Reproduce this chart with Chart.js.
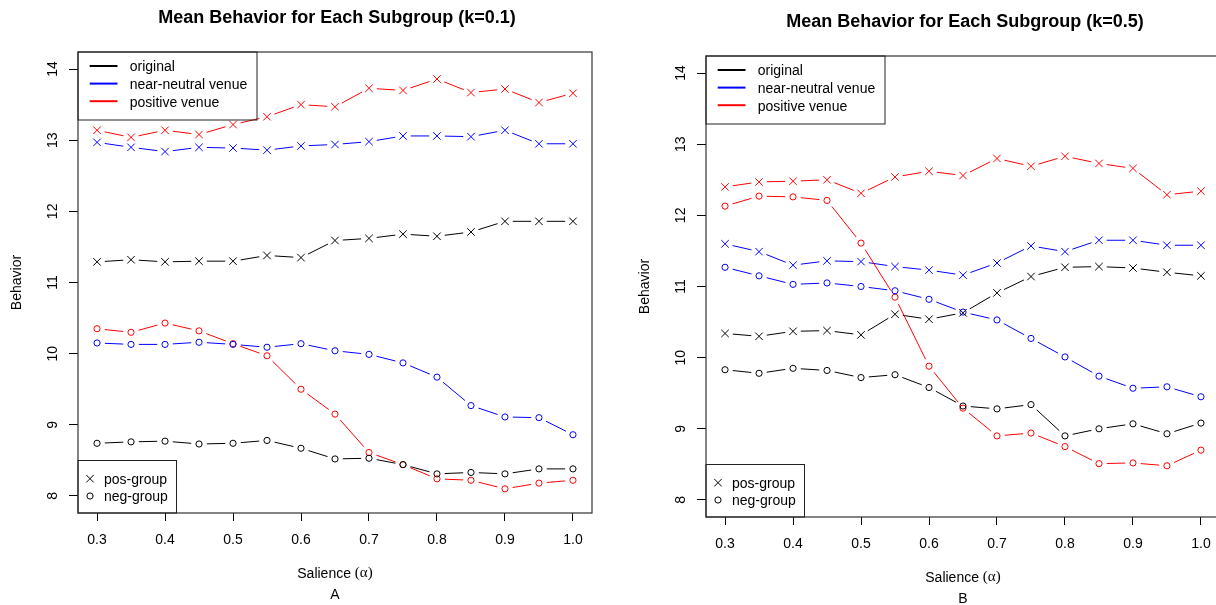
<!DOCTYPE html>
<html>
<head>
<meta charset="utf-8">
<script src="https://cdn.jsdelivr.net/npm/chart.js@4.4.1/dist/chart.umd.min.js"></script>
<style>
html, body { margin: 0; padding: 0; background: #fff; overflow: hidden; width: 1216px; height: 605px; }
.panel { position: absolute; width: 620px; height: 605px; }
</style>
</head>
<body>
<div class="panel" style="left:0;top:0"><canvas id="chartA" width="620" height="605"></canvas></div>
<div class="panel" style="left:628px;top:4px"><canvas id="chartB" width="620" height="605"></canvas></div>
<script>
// salience values (x) and axis ticks
const salience = [0.3, 0.35, 0.4, 0.45, 0.5, 0.55, 0.6, 0.65, 0.7, 0.75, 0.8, 0.85, 0.9, 0.95, 1.0];
const xTicks = [0.3, 0.4, 0.5, 0.6, 0.7, 0.8, 0.9, 1.0];
const yTicks = [8, 9, 10, 11, 12, 13, 14];

// k = 0.1
const k1OriginalPos = [11.29, 11.32, 11.29, 11.30, 11.30, 11.38, 11.35, 11.59, 11.62, 11.68, 11.65, 11.71, 11.86, 11.86, 11.86];
const k1OriginalNeg = [8.74, 8.76, 8.77, 8.73, 8.74, 8.78, 8.67, 8.52, 8.53, 8.44, 8.31, 8.33, 8.31, 8.38, 8.38];
const k1NeutralPos = [12.97, 12.90, 12.84, 12.90, 12.89, 12.86, 12.92, 12.94, 12.98, 13.06, 13.06, 13.05, 13.14, 12.95, 12.95];
const k1NeutralNeg = [10.15, 10.13, 10.13, 10.16, 10.13, 10.09, 10.14, 10.04, 9.99, 9.87, 9.67, 9.27, 9.11, 9.10, 8.86];
const k1PositivePos = [13.14, 13.04, 13.14, 13.08, 13.22, 13.33, 13.50, 13.47, 13.73, 13.70, 13.86, 13.67, 13.72, 13.53, 13.66];
const k1PositiveNeg = [10.35, 10.30, 10.43, 10.32, 10.14, 9.97, 9.50, 9.15, 8.61, 8.44, 8.24, 8.22, 8.10, 8.18, 8.22];

// k = 0.5
const k5OriginalPos = [10.34, 10.30, 10.37, 10.38, 10.32, 10.61, 10.54, 10.63, 10.91, 11.14, 11.27, 11.28, 11.26, 11.20, 11.15];
const k5OriginalNeg = [9.83, 9.78, 9.85, 9.82, 9.72, 9.76, 9.58, 9.32, 9.28, 9.34, 8.90, 9.00, 9.07, 8.93, 9.08];
const k5NeutralPos = [11.60, 11.49, 11.30, 11.36, 11.35, 11.28, 11.23, 11.16, 11.33, 11.57, 11.49, 11.65, 11.65, 11.58, 11.58];
const k5NeutralNeg = [11.27, 11.15, 11.03, 11.05, 11.00, 10.94, 10.82, 10.64, 10.53, 10.27, 10.01, 9.74, 9.57, 9.59, 9.45];
const k5PositivePos = [12.40, 12.47, 12.48, 12.50, 12.31, 12.54, 12.62, 12.56, 12.80, 12.69, 12.83, 12.73, 12.66, 12.29, 12.34];
const k5PositiveNeg = [12.13, 12.27, 12.26, 12.21, 11.61, 10.85, 9.88, 9.29, 8.90, 8.94, 8.75, 8.51, 8.52, 8.48, 8.70];

const venueNames = ['original', 'near-neutral venue', 'positive venue'];
const venueColors = ['#000000', '#0000ff', '#ff0000'];
const groupNames = ['pos-group', 'neg-group'];

const SANS = '"Liberation Sans", Arial, sans-serif';
const SERIF = '"Liberation Serif", "DejaVu Serif", serif';
const GAP = 7.8;
const CROSS_R = 5.3;
const CIRCLE_R = 3.1;

function series(values, color, cross) {
    return {
        data: values.map((v, i) => ({ x: salience[i], y: v })),
        borderColor: color,
        backgroundColor: 'rgba(0,0,0,0)',
        pointStyle: cross ? 'crossRot' : 'circle',
        pointRadius: cross ? CROSS_R : CIRCLE_R,
        pointBorderWidth: 1,
        pointHoverRadius: cross ? CROSS_R : CIRCLE_R,
        showLine: false
    };
}

// type="b" style lines: segments with a gap around every point
const gappedLines = {
    id: 'gappedLines',
    beforeDatasetsDraw(chart) {
        const ctx = chart.ctx;
        const a = chart.chartArea;
        ctx.save();
        ctx.beginPath();
        ctx.rect(a.left, a.top, a.right - a.left, a.bottom - a.top);
        ctx.clip();
        ctx.lineWidth = 1;
        chart.data.datasets.forEach((ds, i) => {
            const pts = chart.getDatasetMeta(i).data;
            ctx.strokeStyle = ds.borderColor;
            ctx.beginPath();
            for (let j = 0; j < pts.length - 1; j++) {
                const p = pts[j], q = pts[j + 1];
                const dx = q.x - p.x, dy = q.y - p.y;
                const len = Math.hypot(dx, dy);
                if (len <= 2 * GAP) continue;
                const ux = dx / len, uy = dy / len;
                ctx.moveTo(p.x + ux * GAP, p.y + uy * GAP);
                ctx.lineTo(q.x - ux * GAP, q.y - uy * GAP);
            }
            ctx.stroke();
        });
        ctx.restore();
    }
};

function drawCross(ctx, x, y, r) {
    const d = r * Math.SQRT1_2;
    ctx.beginPath();
    ctx.moveTo(x - d, y - d); ctx.lineTo(x + d, y + d);
    ctx.moveTo(x - d, y + d); ctx.lineTo(x + d, y - d);
    ctx.stroke();
}

function drawCircle(ctx, x, y, r) {
    ctx.beginPath();
    ctx.arc(x, y, r, 0, Math.PI * 2);
    ctx.stroke();
}

// box, tick labels, titles and the two legends, R style
const frame = {
    id: 'frame',
    afterDraw(chart, args, opts) {
        const ctx = chart.ctx;
        const a = chart.chartArea;
        const xs = chart.scales.x, ys = chart.scales.y;
        const cx = (a.left + a.right) / 2;
        ctx.save();

        ctx.strokeStyle = '#333';
        ctx.lineWidth = 1.2;
        ctx.strokeRect(a.left, a.top, a.right - a.left, a.bottom - a.top);

        ctx.fillStyle = '#000';
        ctx.font = '14px ' + SANS;
        ctx.textAlign = 'center';
        ctx.textBaseline = 'middle';
        xTicks.forEach(v => {
            ctx.fillText(v.toFixed(1), xs.getPixelForValue(v), a.bottom + 27);
        });
        yTicks.forEach(v => {
            ctx.save();
            ctx.translate(a.left - 25, ys.getPixelForValue(v));
            ctx.rotate(-Math.PI / 2);
            ctx.fillText(String(v), 0, 0);
            ctx.restore();
        });

        ctx.save();
        ctx.translate(a.left - 60.5, (a.top + a.bottom) / 2);
        ctx.rotate(-Math.PI / 2);
        ctx.fillText('Behavior', 0, 0);
        ctx.restore();

        // x axis title: "Salience" plus (alpha) in a serif face
        const part1 = 'Salience ';
        const part2 = '(\u03b1)';
        ctx.font = '14px ' + SANS;
        const w1 = ctx.measureText(part1).width;
        ctx.font = '15px ' + SERIF;
        const w2 = ctx.measureText(part2).width;
        const sx = cx - (w1 + w2) / 2;
        ctx.textAlign = 'left';
        ctx.font = '14px ' + SANS;
        ctx.fillText(part1, sx, a.bottom + 61);
        ctx.font = '15px ' + SERIF;
        ctx.fillText(part2, sx + w1, a.bottom + 60);
        ctx.textAlign = 'center';
        ctx.font = '14px ' + SANS;
        ctx.fillText(opts.letter, cx, a.bottom + 82);

        ctx.font = 'bold 18px ' + SANS;
        ctx.fillText(opts.title, cx + 2, a.top - 34);

        // venue legend, top left
        ctx.strokeStyle = '#222';
        ctx.lineWidth = 1;
        ctx.strokeRect(a.left, a.top, 179, 68);
        ctx.font = '14px ' + SANS;
        ctx.textAlign = 'left';
        venueNames.forEach((name, i) => {
            const y = a.top + 14 + i * 17.6;
            ctx.strokeStyle = venueColors[i];
            ctx.lineWidth = 2;
            ctx.beginPath();
            ctx.moveTo(a.left + 11.7, y);
            ctx.lineTo(a.left + 39.5, y);
            ctx.stroke();
            ctx.fillText(name, a.left + 51.7, y + 1.5);
        });

        // group legend, bottom left
        ctx.strokeStyle = '#222';
        ctx.lineWidth = 1;
        ctx.strokeRect(a.left, a.bottom - 52.5, 98.5, 52.5);
        groupNames.forEach((name, i) => {
            const y = a.bottom - 34.3 + i * 17.3;
            ctx.strokeStyle = '#000';
            ctx.lineWidth = 1;
            if (i === 0) drawCross(ctx, a.left + 12, y, CROSS_R);
            else drawCircle(ctx, a.left + 12, y, CIRCLE_R);
            ctx.fillText(name, a.left + 26, y + 1.5);
        });

        ctx.restore();
    }
};

function makeChart(id, title, letter, values) {
    const ctx = document.getElementById(id).getContext('2d');
    return new Chart(ctx, {
        type: 'scatter',
        data: {
            datasets: [
                series(values[0], venueColors[0], true),
                series(values[1], venueColors[0], false),
                series(values[2], venueColors[1], true),
                series(values[3], venueColors[1], false),
                series(values[4], venueColors[2], true),
                series(values[5], venueColors[2], false)
            ]
        },
        options: {
            responsive: false,
            animation: false,
            layout: { padding: { left: 0, right: 28, top: 52, bottom: 0 } },
            plugins: {
                legend: { display: false },
                tooltip: { enabled: false },
                frame: { title: title, letter: letter }
            },
            scales: {
                x: {
                    type: 'linear',
                    min: 0.272,
                    max: 1.028,
                    afterBuildTicks: s => { s.ticks = xTicks.map(v => ({ value: v })); },
                    afterFit: s => { s.height = 92; },
                    grid: { drawOnChartArea: false, drawTicks: true, tickLength: 8, color: '#000' },
                    border: { display: false },
                    ticks: { display: false }
                },
                y: {
                    type: 'linear',
                    min: 7.76,
                    max: 14.24,
                    afterBuildTicks: s => { s.ticks = yTicks.map(v => ({ value: v })); },
                    afterFit: s => { s.width = 78; },
                    grid: { drawOnChartArea: false, drawTicks: true, tickLength: 9, color: '#000' },
                    border: { display: false },
                    ticks: { display: false }
                }
            }
        },
        plugins: [gappedLines, frame]
    });
}

makeChart('chartA', 'Mean Behavior for Each Subgroup (k=0.1)', 'A',
    [k1OriginalPos, k1OriginalNeg, k1NeutralPos, k1NeutralNeg, k1PositivePos, k1PositiveNeg]);
makeChart('chartB', 'Mean Behavior for Each Subgroup (k=0.5)', 'B',
    [k5OriginalPos, k5OriginalNeg, k5NeutralPos, k5NeutralNeg, k5PositivePos, k5PositiveNeg]);
</script>
</body>
</html>
